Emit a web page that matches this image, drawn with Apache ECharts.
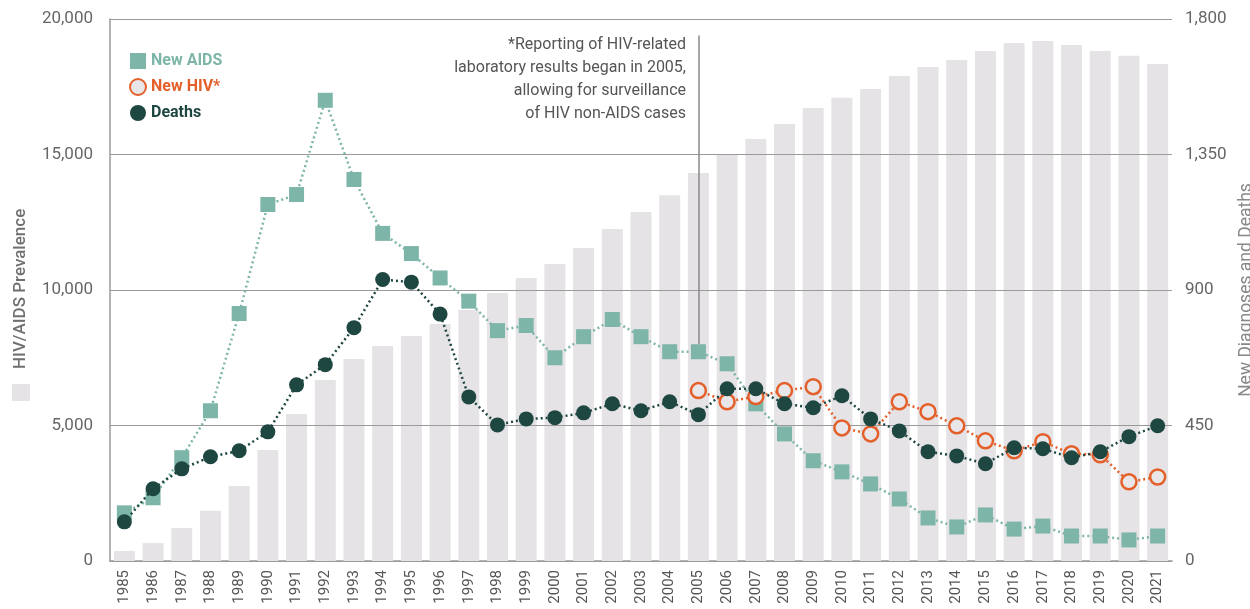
<!DOCTYPE html>
<html>
<head>
<meta charset="utf-8">
<script src="https://cdn.jsdelivr.net/npm/echarts@6/dist/echarts.min.js"></script>
<style>
  html, body { margin: 0; padding: 0; background: #fff; }
  #chart { width: 1250px; height: 609px; }
</style>
</head>
<body>
<div id="chart"></div>
<script>
// years on the x axis
const years = ['1985', '1986', '1987', '1988', '1989', '1990', '1991', '1992', '1993', '1994',
  '1995', '1996', '1997', '1998', '1999', '2000', '2001', '2002', '2003', '2004',
  '2005', '2006', '2007', '2008', '2009', '2010', '2011', '2012', '2013', '2014',
  '2015', '2016', '2017', '2018', '2019', '2020', '2021']

// HIV/AIDS prevalence (bars, left axis)
const prevalence = [370, 660, 1220, 1850, 2770, 4100, 5420, 6680, 7450, 7930,
  8300, 8750, 9260, 9890, 10440, 10960, 11550, 12250, 12880, 13500,
  14320, 14980, 15570, 16130, 16720, 17090, 17420, 17900, 18230, 18490,
  18820, 19110, 19190, 19040, 18820, 18640, 18340]

// new diagnoses and deaths (right axis)
const newAids = [160, 210, 343, 499, 822, 1184, 1217, 1530, 1267, 1088,
  1021, 940, 863, 765, 782, 675, 745, 802, 745, 695,
  695, 655, 522, 422, 333, 296, 256, 206, 143, 113,
  153, 106, 116, 83, 83, 70, 83]
const newHiv = [null, null, null, null, null, null, null, null, null, null,
  null, null, null, null, null, null, null, null, null, null,
  566, 529, 546, 566, 579, 442, 422, 529, 496, 449,
  399, 366, 396, 356, 353, 263, 279]
const deaths = [130, 240, 306, 346, 366, 429, 585, 652, 775, 935,
  926, 820, 545, 452, 472, 476, 492, 522, 499, 529,
  486, 572, 572, 522, 509, 549, 472, 432, 363, 349,
  323, 376, 373, 343, 363, 413, 449]

const leftTicks = { min: 0, max: 20000, interval: 5000 }
const rightTicks = { min: 0, max: 1800, interval: 450 }

const note = '*Reporting of HIV-related\nlaboratory results began in 2005,\nallowing for surveillance\nof HIV non-AIDS cases'

const teal = '#7db5a8'
const orange = '#e4602a'
const dark = '#1f4742'
const barGray = '#e5e3e5'
const fmt = (v) => v.toLocaleString('en-US')

const chartInstance = echarts.init(document.getElementById('chart'))
const option = {
  backgroundColor: '#fff',
  animation: false,
  textStyle: { fontFamily: 'Roboto' },
  grid: { left: 110, right: 78, top: 19, bottom: 48, outerBoundsMode: 'none' },
  legend: {
    orient: 'vertical',
    left: 124,
    top: 48,
    itemWidth: 16,
    itemHeight: 16,
    itemGap: 9,
    textStyle: { fontSize: 16, fontWeight: 'bold' },
    data: [
      { name: 'New AIDS', icon: 'rect', textStyle: { color: teal } },
      { name: 'New HIV*', icon: 'circle', textStyle: { color: orange } },
      { name: 'Deaths', icon: 'circle', textStyle: { color: dark } },
    ],
  },
  xAxis: {
    type: 'category',
    data: years,
    axisLine: { lineStyle: { color: '#9a9a9a', width: 1.5 } },
    axisTick: { show: false },
    axisLabel: { rotate: 90, interval: 0, fontSize: 15, color: '#555', margin: 9 },
  },
  yAxis: [
    {
      type: 'value',
      ...leftTicks,
      z: 3,
      axisLine: { show: true, lineStyle: { color: '#9a9a9a', width: 1.5 } },
      axisTick: { show: false },
      axisLabel: { fontSize: 17, color: '#666', margin: 17, formatter: fmt },
      splitLine: { lineStyle: { color: '#9a9a9a', width: 1.2 } },
    },
    {
      type: 'value',
      ...rightTicks,
      name: 'New Diagnoses and Deaths',
      nameLocation: 'middle',
      nameGap: 58,
      nameTextStyle: { fontSize: 17.5, color: '#888' },
      axisLine: { show: false },
      axisTick: { show: false },
      axisLabel: { fontSize: 17, color: '#666', margin: 13, formatter: fmt },
      splitLine: { show: false },
    },
  ],
  series: [
    {
      name: 'HIV/AIDS Prevalence',
      type: 'bar',
      yAxisIndex: 0,
      data: prevalence,
      barCategoryGap: '27%',
      itemStyle: { color: barGray },
      z: 1,
    },
    {
      name: 'New AIDS',
      type: 'line',
      yAxisIndex: 1,
      data: newAids,
      z: 5,
      symbol: 'rect',
      symbolSize: 15,
      itemStyle: { color: teal },
      lineStyle: { color: teal, width: 2.5, type: [2, 3] },
      markLine: {
        silent: true,
        symbol: 'none',
        label: { show: false },
        lineStyle: { color: '#888', width: 1.5, type: 'solid' },
        data: [[{ coord: ['2005', 1745] }, { coord: ['2005', 720] }]],
      },
    },
    {
      name: 'New HIV*',
      type: 'line',
      yAxisIndex: 1,
      data: newHiv,
      z: 6,
      symbol: 'circle',
      symbolSize: 15,
      itemStyle: { color: '#e8e6e8', borderColor: orange, borderWidth: 2.5 },
      lineStyle: { color: orange, width: 2.5, type: [2, 3] },
    },
    {
      name: 'Deaths',
      type: 'line',
      yAxisIndex: 1,
      data: deaths,
      z: 7,
      symbol: 'circle',
      symbolSize: 15,
      itemStyle: { color: dark },
      lineStyle: { color: dark, width: 2.5, type: [2, 3] },
    },
  ],
  graphic: [
    {
      type: 'text',
      right: 1250 - 686,
      top: 33,
      style: {
        text: note,
        textAlign: 'right',
        fontSize: 16,
        lineHeight: 23,
        fill: '#555',
        fontFamily: 'Roboto',
      },
    },
    // left axis title with its swatch for the bars
    {
      type: 'rect',
      shape: { x: 12, y: 384, width: 18, height: 17 },
      style: { fill: barGray },
    },
    {
      type: 'text',
      x: 21,
      y: 369,
      rotation: Math.PI / 2,
      style: {
        text: 'HIV/AIDS Prevalence',
        align: 'left',
        verticalAlign: 'middle',
        fontSize: 17,
        fontWeight: 500,
        fill: '#707070',
        fontFamily: 'Roboto',
      },
    },
  ],
}
chartInstance.setOption(option)
window.addEventListener('resize', () => chartInstance.resize())
</script>
</body>
</html>
